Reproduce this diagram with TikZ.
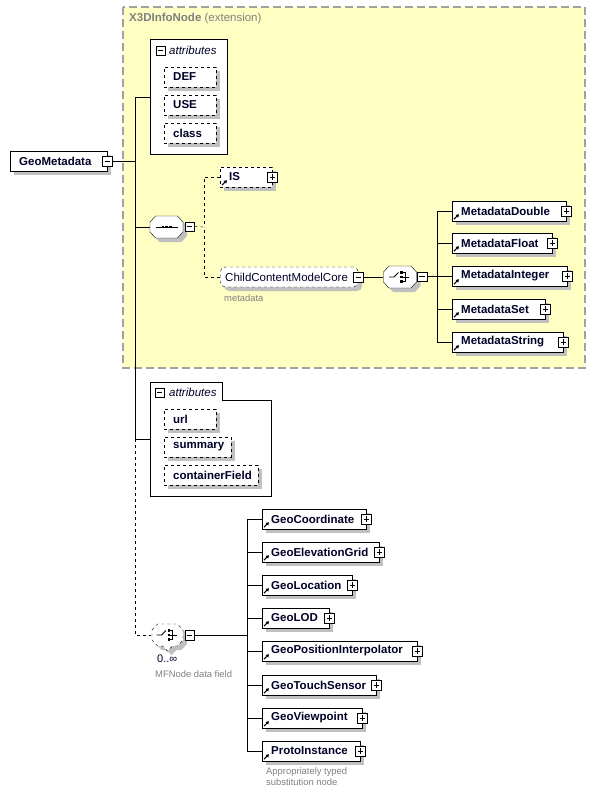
\documentclass[tikz,border=0pt]{standalone}
\usepackage{fontspec}
\setmainfont{Liberation Sans}
\usetikzlibrary{shadows,arrows.meta}
\definecolor{extfill}{RGB}{255,255,196}
\definecolor{extline}{RGB}{160,160,160}
\definecolor{extgray}{RGB}{128,128,128}
\definecolor{shadowgray}{RGB}{192,192,192}
\definecolor{namenavy}{RGB}{0,0,40}

\begin{document}
\begin{tikzpicture}[x=1pt,y=-1pt,
	boxshadow/.style={drop shadow={shadow xshift=4pt,shadow yshift=-4pt,fill=shadowgray,opacity=1}},
	elem/.style={draw,fill=white,boxshadow,anchor=west,minimum height=20pt,inner xsep=9pt,inner ysep=0pt,align=left,text=namenavy,font=\fontsize{11.5}{13}\selectfont\bfseries},
	attr/.style={elem,dashed},
	plusbox/.style={draw,solid,fill=white,minimum size=9.5pt,inner sep=0pt,
		path picture={\draw ([xshift=2pt]path picture bounding box.west) -- ([xshift=-2pt]path picture bounding box.east);
			\draw ([yshift=-2pt]path picture bounding box.north) -- ([yshift=2pt]path picture bounding box.south);}},
	minusbox/.style={draw,solid,fill=white,minimum size=9.5pt,inner sep=0pt,
		path picture={\draw ([xshift=2pt]path picture bounding box.west) -- ([xshift=-2pt]path picture bounding box.east);}},
	compositor/.style={rectangle,minimum width=33pt,minimum height=22pt,inner sep=0pt},
	refarrow/.style={line width=1.1pt,-{Triangle[length=3pt,width=3.5pt]}},
	grouplabel/.style={anchor=west,inner sep=0pt,text=namenavy,font=\fontsize{11.5}{13}\selectfont\itshape},
	note/.style={anchor=west,inner sep=0pt,text=extgray,align=left,font=\fontsize{9.4}{11}\selectfont}]
	\useasboundingbox (0,0) rectangle (597,796);

	% extension frame
	\draw[extline,fill=extfill,line width=1.3pt,dash pattern=on 8pt off 4pt] (123,7) rectangle (585,368);
	\node[anchor=west,inner sep=0pt,text=extgray,font=\fontsize{11.5}{13}\selectfont] (exttitle) at (129,19) {\textbf{X3DInfoNode} (extension)};

	% first attributes
	\node[draw,fill=white,minimum width=77pt,minimum height=115pt,anchor=north west] (attrs1) at (150,39) {};
	\node[minusbox] (attrs1-x) at (160.5,50.5) {};
	\node[grouplabel] (attrs1-lbl) at (169,50) {attributes};
	\node[attr,text width=34pt] (def) at (164,77) {DEF};
	\node[attr,text width=34pt] (use) at (164,105) {USE};
	\node[attr,text width=34pt] (class) at (164,133) {class};

	% root
	\node[elem,text width=79pt] (gm) at (10,161) {GeoMetadata};
	\node[minusbox] (gm-x) at (gm.east) {};

	% trunk
	\coordinate (tjtop) at (135,97);
	\coordinate (tjbot) at (135,439);
	\coordinate (attB) at (150,439);
	\draw (attrs1.west |- tjtop) -- (tjtop) -- (tjbot) -- (attB);
	\draw (gm-x.east) -- (gm-x.east -| tjtop);

	% sequence
	\node[compositor] (seq) at (166.5,227) {};
	\begin{scope}[shift={(seq.center)}]
		\fill[shadowgray,shift={(4,4)}] (-16.5,-5) -- (-11,-11) -- (11,-11) -- (16.5,-5) -- (16.5,5) -- (11,11) -- (-11,11) -- (-16.5,5) -- cycle;
		\draw[fill=white] (-16.5,-5) -- (-11,-11) -- (11,-11) -- (16.5,-5) -- (16.5,5) -- (11,11) -- (-11,11) -- (-16.5,5) -- cycle;
		\draw[line width=0.9pt] (-11,0) -- (11,0);
		\foreach \d in {-3.6,0,3.6}
			\fill (\d-1.4,-1.4) rectangle (\d+1.4,1.4);
	\end{scope}
	\node[minusbox] (seq-x) at (189.5,226.5) {};
	\draw (seq.west) -- (seq.west -| tjtop);

	\node[attr,text width=34pt] (is) at (220,177) {IS};
	\node[plusbox] (is-x) at (is.east) {};
	\draw[refarrow] ([shift={(2,-2)}]is.south west) -- ++(5,-5);
	\node[elem,dashed,rounded corners=5pt,inner xsep=5pt,text width=128pt,font=\fontsize{11.5}{13}\selectfont] (ccmc) at (220,277) {ChildContentModelCore};
	\node[minusbox] (ccmc-x) at (ccmc.east) {};
	\node[note] (ccmc-note) at (224,298) {metadata};
	\coordinate (seqbus) at (204,227);
	\draw[dashed] (seq-x.east) -- (seqbus);
	\draw[dashed] (is.west) -| (seqbus);
	\draw[dashed] (ccmc.west) -| (seqbus);

	% choice of metadata
	\node[compositor] (mdchoice) at (400,277) {};
	\begin{scope}[shift={(mdchoice.center)}]
		\fill[shadowgray,shift={(4,4)}] (-16.5,-5) -- (-11,-11) -- (11,-11) -- (16.5,-5) -- (16.5,5) -- (11,11) -- (-11,11) -- (-16.5,5) -- cycle;
		\draw[fill=white] (-16.5,-5) -- (-11,-11) -- (11,-11) -- (16.5,-5) -- (16.5,5) -- (11,11) -- (-11,11) -- (-16.5,5) -- cycle;
		\draw[line width=0.9pt] (-11,0) -- (-6,0) -- (-1.5,-4.5);
		\fill (0,-5.6) rectangle (2.8,-2.8);
		\fill (0,-1.4) rectangle (2.8,1.4);
		\fill (0,2.8) rectangle (2.8,5.6);
		\draw[line width=0.9pt] (2.8,-4.2) -- (5,-4.2) -- (5,4.2) -- (2.8,4.2);
		\draw[line width=0.9pt] (2.8,0) -- (9,0);
	\end{scope}
	\node[minusbox] (mdchoice-x) at (422,276.5) {};
	\draw (ccmc-x.east) -- (mdchoice.west);
	\coordinate (mdbus) at (437,276.5);
	\draw (mdchoice-x.east) -- (mdbus);

	\node[elem,text width=96pt] (mdouble) at (452,211) {MetadataDouble};
	\node[elem,text width=82pt] (mfloat) at (452,243) {MetadataFloat};
	\node[elem,text width=97pt] (minteger) at (452,276) {MetadataInteger};
	\node[elem,text width=75pt] (mset) at (452,309) {MetadataSet};
	\node[elem,text width=93pt] (mstring) at (452,342) {MetadataString};
	\foreach \n in {mdouble,mfloat,minteger,mset,mstring} {
		\node[plusbox] (\n-x) at (\n.east) {};
		\draw[refarrow] ([shift={(2,-2)}]\n.south west) -- ++(5,-5);
		\draw (\n.west) -| (mdbus);
	}

	% second attributes
	\draw[fill=white] (150,382) -- (222,382) -- (222,400) -- (271,400) -- (271,496) -- (150,496) -- cycle;
	\node[minusbox] (attrs2-x) at (159.5,392.5) {};
	\node[grouplabel] (attrs2-lbl) at (169,392) {attributes};
	\node[attr,text width=34pt] (url) at (164,419) {url};
	\node[attr,text width=49pt] (summary) at (164,447) {summary};
	\node[attr,text width=76pt] (cfield) at (164,475) {containerField};

	% MFNode choice
	\node[compositor] (mfchoice) at (167.5,635) {};
	\begin{scope}[shift={(mfchoice.center)}]
		\fill[shadowgray,shift={(4,4)}] (-15.5,-5) -- (-10,-11) -- (10,-11) -- (15.5,-5) -- (15.5,5) -- (10,11) -- (5,11) -- (0,16) -- (-5,11) -- (-10,11) -- (-15.5,5) -- cycle;
		\draw[dashed,fill=white] (-15.5,-5) -- (-10,-11) -- (10,-11) -- (15.5,-5) -- (15.5,5) -- (10,11) -- (5,11) -- (0,16) -- (-5,11) -- (-10,11) -- (-15.5,5) -- cycle;
		\draw[line width=0.9pt] (-11,0) -- (-6,0) -- (-1.5,-4.5);
		\fill (0,-5.6) rectangle (2.8,-2.8);
		\fill (0,-1.4) rectangle (2.8,1.4);
		\fill (0,2.8) rectangle (2.8,5.6);
		\draw[line width=0.9pt] (2.8,-4.2) -- (5,-4.2) -- (5,4.2) -- (2.8,4.2);
		\draw[line width=0.9pt] (2.8,0) -- (9,0);
	\end{scope}
	\node[minusbox] (mfchoice-x) at (189.5,635) {};
	\draw[dashed] (tjbot) |- (mfchoice.west);
	\node[anchor=west,inner sep=0pt,text=namenavy,font=\fontsize{11}{13}\selectfont] (mfocc) at (157,659) {0..∞};
	\node[note] (mfnote) at (155,674) {MFNode data field};
	\coordinate (geobus) at (247,635);
	\draw (mfchoice-x.east) -- (geobus);

	\node[elem,text width=86pt] (gcoord) at (262,519) {GeoCoordinate};
	\node[elem,text width=99pt] (gelev) at (262,552) {GeoElevationGrid};
	\node[elem,text width=72pt] (gloc) at (262,585) {GeoLocation};
	\node[elem,text width=49pt] (glod) at (262,618) {GeoLOD};
	\node[elem,text width=137pt] (gpos) at (262,651) {GeoPositionInterpolator};
	\node[elem,text width=96pt] (gtouch) at (262,685) {GeoTouchSensor};
	\node[elem,text width=82pt] (gview) at (262,718) {GeoViewpoint};
	\node[elem,text width=80pt] (proto) at (262,751) {ProtoInstance};
	\foreach \n in {gcoord,gelev,gloc,glod,gpos,gtouch,gview,proto} {
		\node[plusbox] (\n-x) at (\n.east) {};
		\draw[refarrow] ([shift={(2,-2)}]\n.south west) -- ++(5,-5);
		\draw (\n.west) -| (geobus);
	}
	\node[note,anchor=north west] (protonote) at (266,767) {Appropriately typed\\substitution node};
\end{tikzpicture}
\end{document}
